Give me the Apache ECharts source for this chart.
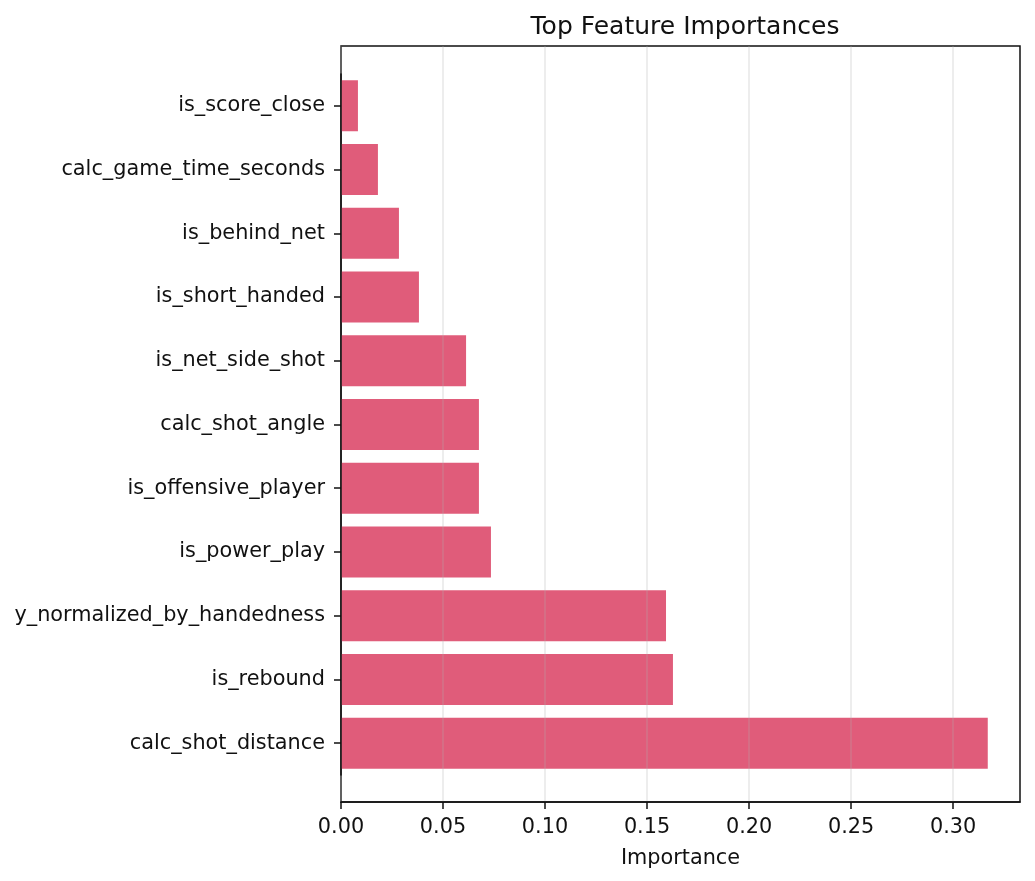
<!DOCTYPE html>
<html>
<head>
<meta charset="utf-8">
<script src="https://cdn.jsdelivr.net/npm/echarts@6/dist/echarts.min.js"></script>
<style>
  html, body { margin: 0; padding: 0; background: #fff; }
  #chart { width: 1035px; height: 881px; }
</style>
</head>
<body>
<div id="chart"></div>
<script>
// bottom to top, same order as the barh call
const features = [
  'calc_shot_distance', 'is_rebound', 'y_normalized_by_handedness', 'is_power_play',
  'is_offensive_player', 'calc_shot_angle', 'is_net_side_shot', 'is_short_handed',
  'is_behind_net', 'calc_game_time_seconds', 'is_score_close'
]
const importances = [0.317, 0.1627, 0.1593, 0.0735, 0.0676, 0.0676, 0.0613, 0.0382, 0.0284, 0.0181, 0.0083]
const xTicks = [0, 0.05, 0.1, 0.15, 0.2, 0.25, 0.3]
const xMax = 0.3328

const font = 'DejaVu Sans'
const ink = '#111'

const chart = echarts.init(document.getElementById('chart'))

chart.setOption({
  animation: false,
  textStyle: { fontFamily: font },
  title: {
    text: 'Top Feature Importances',
    left: 680, top: 10, textAlign: 'center',
    textStyle: { fontFamily: font, fontSize: 25, fontWeight: 'normal', color: ink }
  },
  grid: [
    // bars
    { left: 341, width: 679, top: 74, height: 701 },
    // frame + x axis
    { left: 341, width: 679, top: 46, height: 756, show: true, borderColor: ink, borderWidth: 1.5, backgroundColor: 'transparent' }
  ],
  xAxis: [
    { gridIndex: 0, type: 'value', min: 0, max: xMax, show: false },
    {
      gridIndex: 1, type: 'value', min: 0, max: xMax, interval: 0.05, z: 4,
      name: 'Importance', nameLocation: 'middle', nameGap: 46,
      nameTextStyle: { fontFamily: font, fontSize: 20.8, color: ink },
      axisLine: { show: true, lineStyle: { color: ink, width: 1.5 } },
      axisTick: { show: true, length: 7, customValues: xTicks, lineStyle: { color: ink, width: 1.5 } },
      axisLabel: {
        margin: 15, fontFamily: font, fontSize: 20.8, color: ink,
        customValues: xTicks,
        formatter: (v) => v.toFixed(2)
      },
      splitLine: { show: true, lineStyle: { color: 'rgba(176,176,176,0.3)', width: 1.5 } }
    }
  ],
  yAxis: [
    {
      gridIndex: 0, type: 'category', data: features, z: 4,
      axisLine: { show: true, lineStyle: { color: ink, width: 1.5 } },
      axisTick: { show: true, alignWithLabel: true, length: 7, lineStyle: { color: ink, width: 1.5 } },
      axisLabel: { margin: 16, fontFamily: font, fontSize: 20.8, color: ink, interval: 0, padding: [4, 0, 0, 0] },
      splitLine: { show: false }
    },
    { gridIndex: 1, type: 'value', min: 0, max: 1, show: false }
  ],
  series: [
    {
      type: 'bar',
      xAxisIndex: 0, yAxisIndex: 0,
      data: importances,
      barWidth: 51,
      itemStyle: { color: '#e05c7a' },
      z: 2
    }
  ]
})
</script>
</body>
</html>
